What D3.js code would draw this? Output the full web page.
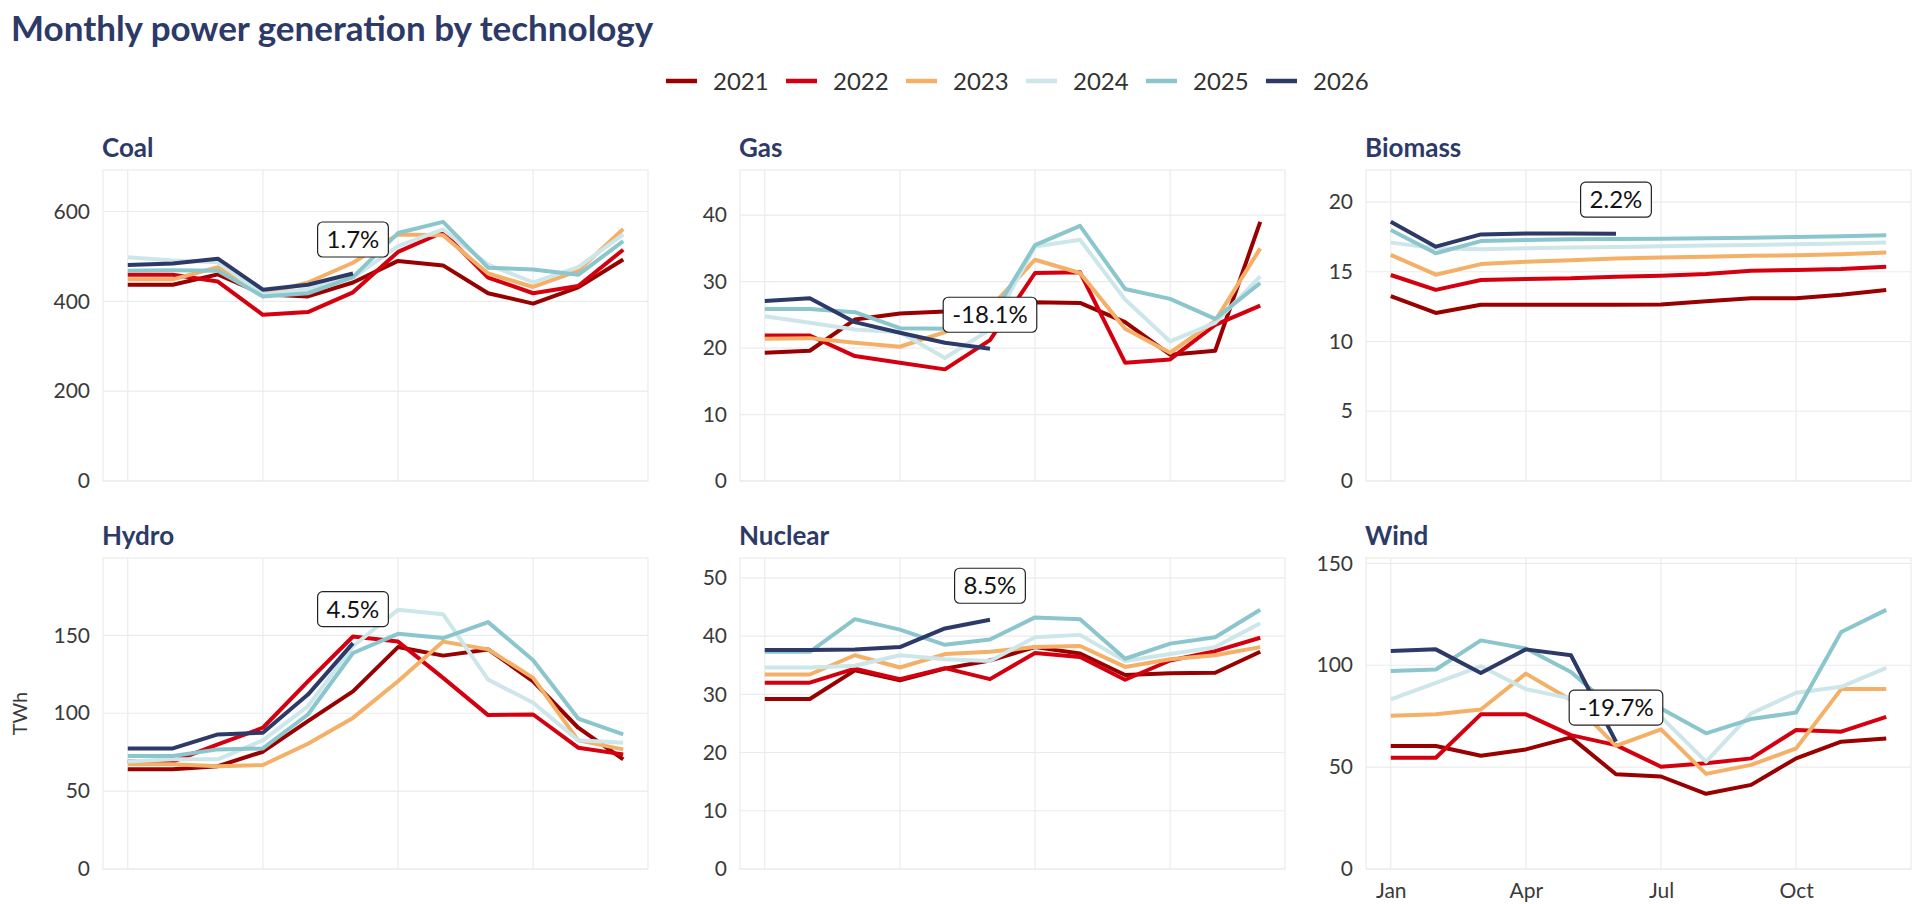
<!DOCTYPE html>
<html>
<head>
<meta charset="utf-8">
<script src="https://cdn.jsdelivr.net/npm/d3@7"></script>
<style>
  body { margin: 0; background: #fff; }
  svg { font-family: Lato, "Noto Sans", sans-serif; }
</style>
</head>
<body>
<svg id="chart" width="1920" height="904"></svg>
<script>
const months = ["Jan","Feb","Mar","Apr","May","Jun","Jul","Aug","Sep","Oct","Nov","Dec"]
const years = ["2021","2022","2023","2024","2025","2026"]
const colors = ["#990000","#d40010","#f4b066","#cde6ea","#8ac6cc","#2d3a68"]
const techs = ["Coal","Gas","Biomass","Hydro","Nuclear","Wind"]
const changeLabels = ["1.7%","-18.1%","2.2%","4.5%","8.5%","-19.7%"]
const monthTicks = ["Jan","Apr","Jul","Oct"]

// one array per year, 2021..2026 (2026 runs to June)
const coal = [
    [437,437,460,416,411,442,490,480,418,395,431,493],
    [459,459,444,370,376,420,510,554,453,418,434,515],
    [449,449,476,416,442,486,549,547,462,432,468,561],
    [498,491,487,416,427,453,523,560,482,442,476,549],
    [468,469,468,411,418,454,552,577,475,471,459,534],
    [481,484,495,426,437,462]
]
const gas = [
    [19.3,19.6,24.3,25.2,25.5,25.8,26.9,26.8,23.9,19.0,19.6,39.0],
    [21.9,21.9,18.8,17.8,16.8,21.2,31.3,31.4,17.8,18.3,23.5,26.4],
    [21.4,21.5,20.8,20.2,22.4,26.0,33.3,31.3,22.9,19.3,24.1,35.0],
    [24.8,23.8,22.8,22.4,18.5,22.8,35.3,36.3,27.3,21.0,23.8,30.8],
    [25.9,25.9,25.4,23.0,22.9,24.3,35.5,38.4,28.9,27.4,24.4,29.8],
    [27.1,27.5,23.9,22.3,20.8,19.9]
]
const biomass = [
    [13.25,12.05,12.64,12.64,12.64,12.64,12.66,12.88,13.1,13.1,13.35,13.7],
    [14.77,13.7,14.41,14.49,14.53,14.65,14.72,14.84,15.08,15.12,15.2,15.36],
    [16.21,14.79,15.55,15.72,15.83,15.95,16.02,16.07,16.14,16.19,16.26,16.38],
    [17.09,16.69,16.62,16.69,16.74,16.78,16.83,16.88,16.92,16.97,17.02,17.09],
    [17.99,16.33,17.2,17.28,17.33,17.35,17.37,17.4,17.44,17.49,17.54,17.61],
    [18.58,16.8,17.68,17.75,17.75,17.73]
]
const hydro = [
    [64,64,66,75.3,95,114,142.5,137,141,120.5,90.7,70.4],
    [69,69,80,90.7,120.5,149.3,146,122.7,98.8,99.2,77.9,73.6],
    [67.2,67.2,66,66.8,80.4,97,120.5,146,141,122.7,82.6,76.8],
    [69,70.4,70.4,82.6,104.5,143,166.4,163.6,121.6,106.7,82.6,81],
    [72.5,72.5,76.8,77.4,99.2,138.7,151,148.3,158.5,134,96.6,86.4],
    [77.4,77.4,86.4,87.5,112,145]
]
const nuclear = [
    [29.2,29.2,34.1,32.4,34.4,35.8,38.1,37.0,33.3,33.6,33.7,37.3],
    [32.0,32.0,34.4,32.6,34.5,32.6,37.1,36.4,32.5,35.8,37.4,39.7],
    [33.4,33.4,36.7,34.6,36.9,37.3,38.1,38.3,34.7,36.0,36.7,38.1],
    [34.6,34.6,34.9,36.7,36.0,35.7,39.8,40.2,35.7,36.9,38.1,42.2],
    [37.3,37.3,42.9,41.1,38.5,39.4,43.2,42.9,36.1,38.7,39.8,44.5],
    [37.6,37.6,37.7,38.1,41.3,42.8]
]
const wind = [
    [60.4,60.4,55.6,58.7,64.6,46.5,45.4,36.9,41.3,54.3,62.5,64.1],
    [54.6,54.6,75.9,75.9,65.7,60.8,50.2,51.9,54.3,68.2,67.4,74.7],
    [75.2,75.9,78.3,95.9,82.9,60.4,68.5,46.7,51.1,59.2,88.3,88.3],
    [83.2,91.4,99.5,88.3,83.7,79.0,74.7,52.7,76.3,86.5,89.4,98.7],
    [97.2,97.9,112.2,108.2,96.7,77.8,78.8,66.6,73.6,76.8,116.3,127.2],
    [107.0,107.8,96.2,107.8,104.9,62.5]
]
const coalTicks = [0,200,400,600]
const gasTicks = [0,10,20,30,40]
const biomassTicks = [0,5,10,15,20]
const hydroTicks = [0,50,100,150]
const nuclearTicks = [0,10,20,30,40,50]
const windTicks = [0,50,100,150]

const seriesByTech = [coal, gas, biomass, hydro, nuclear, wind]
const ticksByTech = [coalTicks, gasTicks, biomassTicks, hydroTicks, nuclearTicks, windTicks]

const navy = "#2d3a68"
const svg = d3.select('#chart')

svg.append('text')
    .attr('x', 11).attr('y', 41)
    .attr('font-size', 35).attr('font-weight', 700)
    .attr('fill', navy)
    .text('Monthly power generation by technology')

// legend
const legend = svg.append('g')
years.forEach((yr, i) => {
    const lx = 666 + i * 120
    legend.append('line')
        .attr('x1', lx).attr('x2', lx + 31)
        .attr('y1', 81).attr('y2', 81)
        .attr('stroke', colors[i]).attr('stroke-width', 4.5)
    legend.append('text')
        .attr('x', lx + 47).attr('y', 89.5)
        .attr('font-size', 24).attr('fill', '#333')
        .text(yr)
})

const colX = [103, 740, 1366]
const rowY = [170, 558]
const pw = 545, ph = 311

techs.forEach((tech, k) => {
    const px = colX[k % 3], py = rowY[Math.floor(k / 3)]
    const data = seriesByTech[k]
    const ymax = d3.max(data.flat()) * 1.2

    const x = d3.scaleLinear().domain([-0.55, 11.55]).range([px, px + pw])
    const y = d3.scaleLinear().domain([0, ymax]).range([py + ph, py])

    const g = svg.append('g')

    g.append('rect')
        .attr('x', px).attr('y', py).attr('width', pw).attr('height', ph)
        .attr('fill', 'none').attr('stroke', '#ebebeb').attr('stroke-width', 1.2)

    g.selectAll('.hgrid').data(ticksByTech[k]).join('line')
        .attr('x1', px).attr('x2', px + pw)
        .attr('y1', d => y(d)).attr('y2', d => y(d))
        .attr('stroke', '#ebebeb').attr('stroke-width', 1.2)

    g.selectAll('.vgrid').data(monthTicks).join('line')
        .attr('x1', d => x(months.indexOf(d))).attr('x2', d => x(months.indexOf(d)))
        .attr('y1', py).attr('y2', py + ph)
        .attr('stroke', '#ebebeb').attr('stroke-width', 1.2)

    // y axis labels
    const yAxis = g.append('g')
        .attr('transform', `translate(${px - 5},0)`)
        .call(d3.axisLeft(y).tickValues(ticksByTech[k]).tickSize(0).tickPadding(8))
    yAxis.select('.domain').remove()
    yAxis.selectAll('text').attr('font-size', 21).attr('fill', '#3a3a3a')
        .attr('font-family', 'Lato, sans-serif')

    // x axis labels only on the last panel
    if (k === 5) {
        const xAxis = g.append('g')
            .attr('transform', `translate(0,${py + ph})`)
            .call(d3.axisBottom(x).tickValues(monthTicks.map(m => months.indexOf(m)))
                .tickFormat(i => months[i]).tickSize(0).tickPadding(14))
        xAxis.select('.domain').remove()
        xAxis.selectAll('text').attr('font-size', 21).attr('fill', '#3a3a3a')
            .attr('font-family', 'Lato, sans-serif')
    }

    g.append('text')
        .attr('x', px - 1).attr('y', py - 13)
        .attr('font-size', 26).attr('font-weight', 700).attr('fill', navy)
        .text(tech)

    const line = d3.line().x((d, i) => x(i)).y(d => y(d))
    g.selectAll('.series').data(data).join('path')
        .attr('d', line)
        .attr('fill', 'none')
        .attr('stroke', (d, i) => colors[i])
        .attr('stroke-width', 4)
        .attr('stroke-linejoin', 'round')

    // change label above last 2026 point
    const cur = data[5]
    const lx = x(cur.length - 1), ly = y(cur[cur.length - 1]) - 34
    const lab = g.append('g')
    const t = lab.append('text')
        .attr('x', lx).attr('y', ly + 8.5)
        .attr('text-anchor', 'middle')
        .attr('font-size', 24).attr('fill', '#111')
        .text(changeLabels[k])
    const tw = t.node().getComputedTextLength()
    lab.insert('rect', 'text')
        .attr('x', lx - tw / 2 - 9).attr('y', ly - 17.5)
        .attr('width', tw + 18).attr('height', 35)
        .attr('rx', 5)
        .attr('fill', '#fff').attr('stroke', '#222').attr('stroke-width', 1.2)
})

svg.append('text')
    .attr('transform', `translate(27,${rowY[1] + ph / 2}) rotate(-90)`)
    .attr('text-anchor', 'middle')
    .attr('font-size', 20).attr('fill', '#3a3a3a')
    .text('TWh')
</script>
</body>
</html>
